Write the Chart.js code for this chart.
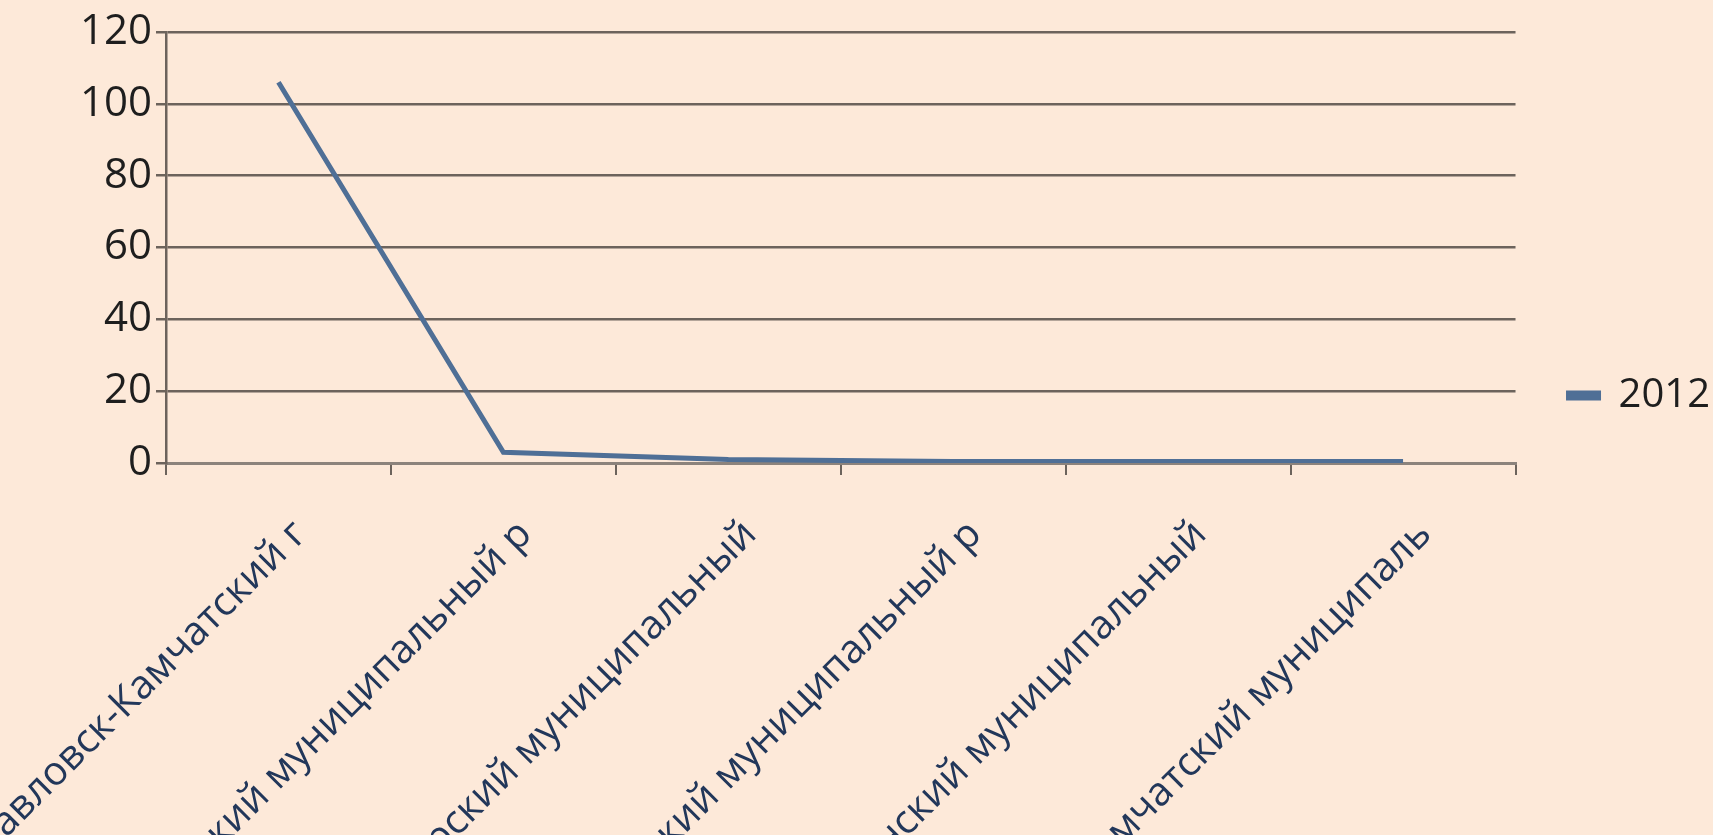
<!DOCTYPE html>
<html>
<head>
<meta charset="utf-8">
<script src="https://cdn.jsdelivr.net/npm/chart.js@4.4.1/dist/chart.umd.min.js"></script>
<style>
    html, body { margin: 0; padding: 0; background: #fde9d9; overflow: hidden; }
    canvas { display: block; }
</style>
</head>
<body>
<canvas id="chart" width="1713" height="835"></canvas>
<script>
// data (labels are cut short as in the original)
const districts = [
    "Петропавловск-Камчатский г",
    "Елизовский муниципальный р",
    "Олюторский муниципальный",
    "Мильковский муниципальный р",
    "Пенжинский муниципальный",
    "Усть-Камчатский муниципаль"
];
const values2012 = [106, 3, 1, 0.4, 0.4, 0.4];
const seriesName = "2012";
const yMin = 0, yMax = 120, yStep = 20;

const lineColor = "#4f6f96";
const gridColor = "#6c635c";

Chart.defaults.font.family = "'Open Sans', sans-serif";

// legend sits a bit above the middle of the canvas, so shorten its box
const legendLift = {
    id: "legendLift",
    afterLayout(chart) {
        const lg = chart.legend;
        lg.bottom = 759;
        lg.height = lg.bottom - lg.top;
    }
};

new Chart(document.getElementById("chart").getContext("2d"), {
    type: "line",
    data: {
        labels: districts,
        datasets: [{
            label: seriesName,
            data: values2012,
            borderColor: lineColor,
            backgroundColor: lineColor,
            borderWidth: 5,
            pointRadius: 0,
            tension: 0
        }]
    },
    options: {
        responsive: false,
        animation: false,
        layout: { padding: { top: 32, bottom: 0, left: 0, right: -7 } },
        plugins: {
            tooltip: { enabled: false },
            legend: {
                position: "right",
                align: "center",
                labels: {
                    boxWidth: 30,
                    boxHeight: 5,
                    padding: 53,
                    color: "#1e1e1e",
                    font: { size: 40 }
                }
            }
        },
        scales: {
            x: {
                offset: true,
                grid: {
                    offset: true,
                    drawOnChartArea: false,
                    drawTicks: true,
                    tickLength: 12,
                    color: gridColor,
                    lineWidth: 2
                },
                border: { color: "#8c837c", width: 3 },
                ticks: {
                    autoSkip: false,
                    minRotation: 45,
                    maxRotation: 45,
                    padding: 36,
                    labelOffset: 22,
                    color: "#22375a",
                    font: { size: 40 }
                },
                afterFit: s => {
                    s.height = 372;
                    s.paddingLeft = 0;
                    s.paddingRight = 0;
                }
            },
            y: {
                min: yMin,
                max: yMax,
                ticks: {
                    stepSize: yStep,
                    padding: 4,
                    color: "#1e1e1e",
                    font: { size: 42 }
                },
                grid: {
                    color: gridColor,
                    lineWidth: 2.5,
                    tickLength: 10
                },
                border: { color: gridColor, width: 2.5 },
                afterFit: s => { s.width = 166; }
            }
        }
    },
    plugins: [legendLift]
});
</script>
</body>
</html>
